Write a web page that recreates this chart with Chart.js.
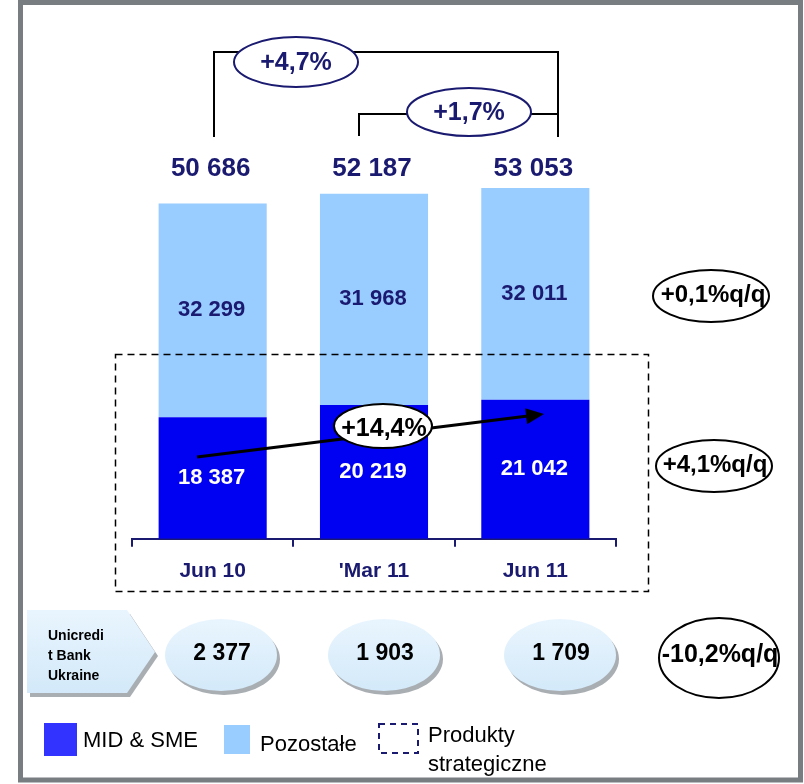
<!DOCTYPE html>
<html><head><meta charset="utf-8">
<script src="https://cdn.jsdelivr.net/npm/chart.js@4/dist/chart.umd.min.js"></script>
<style>html,body{margin:0;padding:0;background:#fff;} #wrap{position:relative;width:804px;height:784px;}</style>
</head><body><div id="wrap"><canvas id="c" width="804" height="784"></canvas></div>
<script>
const categories = ["Jun 10", "'Mar 11", "Jun 11"];
const midSme = [18387, 20219, 21042];
const pozostale = [32299, 31968, 32011];
const totals = [50686, 52187, 53053];
const ukraine = [2377, 1903, 1709];
const growthTotal = ["+4,7%", "+1,7%"];
const growthMid = "+14,4%";
const qqLabels = ["+0,1%q/q", "+4,1%q/q", "-10,2%q/q"];
const legendLabels = ["MID & SME", "Pozostałe", ["Produkty", "strategiczne"]];
const ukraineLabel = ["Unicredi", "t Bank", "Ukraine"];

const NAVY = '#1a1a70';
const DARK = '#0000f2';
const LIGHT = '#99ccff';
const FONT = '"Liberation Sans", Arial, sans-serif';
const fmt = v => String(v).replace(/\B(?=(\d{3})+(?!\d))/g, ' ');

function ellipse(ctx, cx, cy, rx, ry, fill, stroke, lw) {
  ctx.beginPath();
  ctx.ellipse(cx, cy, rx, ry, 0, 0, Math.PI * 2);
  if (fill) { ctx.fillStyle = fill; ctx.fill(); }
  if (stroke) { ctx.strokeStyle = stroke; ctx.lineWidth = lw || 2; ctx.stroke(); }
}
function text(ctx, s, x, y, font, color, align) {
  ctx.font = font; ctx.fillStyle = color;
  ctx.textAlign = align || 'center'; ctx.textBaseline = 'middle';
  ctx.fillText(s, x, y);
}
function line(ctx, pts, color, lw, dash) {
  ctx.beginPath();
  ctx.moveTo(pts[0][0], pts[0][1]);
  for (let i = 1; i < pts.length; i++) ctx.lineTo(pts[i][0], pts[i][1]);
  ctx.strokeStyle = color; ctx.lineWidth = lw; ctx.setLineDash(dash || []);
  ctx.stroke(); ctx.setLineDash([]);
}

const deco = {
  id: 'deco',
  beforeDraw(chart) {
    const ctx = chart.ctx;
    ctx.save(); ctx.fillStyle = '#fff'; ctx.fillRect(0, 0, 804, 784); ctx.restore();
  },
  afterDatasetsDraw(chart) {
    const ctx = chart.ctx;
    ctx.save();
    const m0 = chart.getDatasetMeta(0).data;
    const m1 = chart.getDatasetMeta(1).data;
    // segment labels
    m0.forEach((b, i) => text(ctx, fmt(midSme[i]), b.x - 1, (b.y + b.base) / 2, 'bold 22px ' + FONT, '#fff'));
    m1.forEach((b, i) => text(ctx, fmt(pozostale[i]), b.x - 1, (b.y + b.base) / 2, 'bold 22px ' + FONT, NAVY));
    // totals
    m1.forEach((b, i) => text(ctx, fmt(totals[i]), b.x - 2, 169, 'bold 26px ' + FONT, NAVY));
    // brackets
    line(ctx, [[214, 137], [214, 52], [558, 52], [558, 137]], '#000', 2);
    line(ctx, [[359, 136], [359, 114], [558, 114]], '#000', 2);
    ellipse(ctx, 296, 62, 62, 25, '#fff', NAVY, 2);
    text(ctx, growthTotal[0], 296, 63, 'bold 25px ' + FONT, NAVY);
    ellipse(ctx, 469, 112, 62, 24, '#fff', NAVY, 2);
    text(ctx, growthTotal[1], 469, 113, 'bold 25px ' + FONT, NAVY);
    // dashed strategic box
    ctx.beginPath(); ctx.rect(115.5, 354.5, 533, 237);
    ctx.strokeStyle = '#000'; ctx.lineWidth = 1.5; ctx.setLineDash([7, 5]); ctx.stroke(); ctx.setLineDash([]);
    // arrow
    line(ctx, [[197, 457], [528, 416]], '#000', 3);
    ctx.beginPath();
    const tx = 544, ty = 414, ang = Math.atan2(414 - 457, 544 - 197);
    ctx.moveTo(tx, ty);
    ctx.lineTo(tx - 18 * Math.cos(ang) + 8 * Math.sin(ang), ty - 18 * Math.sin(ang) - 8 * Math.cos(ang));
    ctx.lineTo(tx - 18 * Math.cos(ang) - 8 * Math.sin(ang), ty - 18 * Math.sin(ang) + 8 * Math.cos(ang));
    ctx.closePath(); ctx.fillStyle = '#000'; ctx.fill();
    ellipse(ctx, 383, 426, 49, 22, '#fff', '#000', 2);
    text(ctx, growthMid, 384, 429, 'bold 25px ' + FONT, '#000');
    // q/q ellipses
    ellipse(ctx, 711, 296, 58, 26, '#fff', '#000', 2);
    text(ctx, qqLabels[0], 713, 295, 'bold 24px ' + FONT, '#000');
    ellipse(ctx, 714, 466, 58, 26, '#fff', '#000', 2);
    text(ctx, qqLabels[1], 715, 465, 'bold 24px ' + FONT, '#000');
    ellipse(ctx, 719, 658, 60, 40, '#fff', '#000', 2);
    text(ctx, qqLabels[2], 720, 655, 'bold 25px ' + FONT, '#000');
    // Ukraine pentagon
    const pent = [[27, 610], [127, 610], [155, 652], [127, 693], [27, 693]];
    ctx.beginPath(); pent.forEach((p, i) => i ? ctx.lineTo(p[0] + 3, p[1] + 4) : ctx.moveTo(p[0] + 3, p[1] + 4));
    ctx.closePath(); ctx.fillStyle = '#a9aeb3'; ctx.fill();
    let g = ctx.createLinearGradient(0, 610, 0, 693);
    g.addColorStop(0, '#e9f5fe'); g.addColorStop(1, '#d3e9f9');
    ctx.beginPath(); pent.forEach((p, i) => i ? ctx.lineTo(p[0], p[1]) : ctx.moveTo(p[0], p[1]));
    ctx.closePath(); ctx.fillStyle = g; ctx.fill();
    ukraineLabel.forEach((s, i) => text(ctx, s, 48, 636 + i * 20, 'bold 14px ' + FONT, '#000', 'left'));
    // Ukraine ellipses
    const ux = [221, 384, 560];
    ux.forEach((cx, i) => {
      ellipse(ctx, cx + 3, 659, 56, 36, '#a9aeb3');
      const gg = ctx.createLinearGradient(0, 620, 0, 692);
      gg.addColorStop(0, '#e9f5fe'); gg.addColorStop(1, '#d3e9f9');
      ellipse(ctx, cx, 655, 56, 36, gg);
      text(ctx, fmt(ukraine[i]), cx + 1, 654, 'bold 23px ' + FONT, '#000');
    });
    // legend
    ctx.fillStyle = '#3333ff'; ctx.fillRect(44, 723, 33, 33);
    text(ctx, legendLabels[0], 83, 741, '22px ' + FONT, '#000', 'left');
    ctx.fillStyle = LIGHT; ctx.fillRect(224, 725, 26, 29);
    text(ctx, legendLabels[1], 260, 745, '22px ' + FONT, '#000', 'left');
    ctx.beginPath(); ctx.rect(379, 724, 39, 29);
    ctx.strokeStyle = NAVY; ctx.lineWidth = 2; ctx.setLineDash([6, 5]); ctx.stroke(); ctx.setLineDash([]);
    text(ctx, legendLabels[2][0], 428, 736, '22px ' + FONT, '#000', 'left');
    text(ctx, legendLabels[2][1], 428, 765, '22px ' + FONT, '#000', 'left');
    // frame
    ctx.beginPath(); ctx.rect(20.5, 2.5, 780, 777.5);
    ctx.strokeStyle = '#787d82'; ctx.lineWidth = 5; ctx.stroke();
    ctx.restore();
  }
};

new Chart(document.getElementById('c'), {
  type: 'bar',
  data: {
    labels: categories,
    datasets: [
      { label: legendLabels[0], data: midSme, backgroundColor: DARK, borderWidth: 0 },
      { label: legendLabels[1], data: pozostale, backgroundColor: LIGHT, borderWidth: 0 }
    ]
  },
  options: {
    responsive: false, animation: false, devicePixelRatio: 1,
    layout: { padding: { left: 132, right: 188, top: 142, bottom: 188 } },
    datasets: { bar: { categoryPercentage: 1, barPercentage: 0.67 } },
    plugins: { legend: { display: false }, tooltip: { enabled: false }, title: { display: false } },
    scales: {
      x: {
        stacked: true,
        grid: { offset: true, drawOnChartArea: false, drawTicks: true, tickLength: 8, color: NAVY, lineWidth: 2 },
        border: { display: true, color: NAVY, width: 2 },
        ticks: { color: NAVY, padding: 12, font: { family: FONT, size: 21, weight: 'bold' } }
      },
      y: { stacked: true, display: false, min: 0, max: 60000 }
    }
  },
  plugins: [deco]
});
</script></body></html>
